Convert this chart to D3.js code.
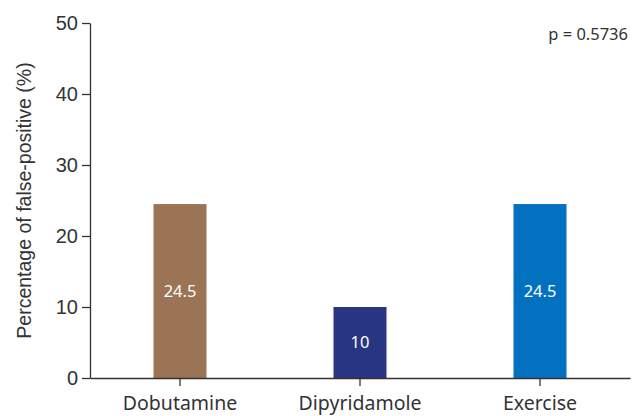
<!DOCTYPE html>
<html>
  <head>
    <meta charset="utf-8"/>
    <style>
    body {
      margin: 0;
      background: #fff;
    }
    </style>
  </head>
  <body>
    <script src="https://d3js.org/d3.v7.min.js"></script>
    <script>
    var categories = ["Dobutamine", "Dipyridamole", "Exercise"];
    var values = [24.5, 10, 24.5];
    var colors = ["#9b7355", "#283583", "#0171c0"];
    var yTicks = [0, 10, 20, 30, 40, 50];
    var pLabel = "p = 0.5736";

    var width = 634, height = 416;
    var margin = {top: 23, right: 4, bottom: 38, left: 90};
    var barWidth = 53;

    var svg = d3.select("body").append("svg")
        .attr("width", width)
        .attr("height", height);

    var x = d3.scaleBand()
        .domain(categories)
        .range([margin.left, width - margin.right]);

    var y = d3.scaleLinear()
        .domain([0, 50])
        .range([height - margin.bottom, margin.top]);

    // bars
    svg.selectAll(".bar")
        .data(values)
      .enter().append("rect")
        .attr("class", "bar")
        .attr("x", function(d, i){ return x(categories[i]) + (x.bandwidth() - barWidth) / 2; })
        .attr("y", function(d){ return y(d); })
        .attr("width", barWidth)
        .attr("height", function(d){ return y(0) - y(d); })
        .attr("fill", function(d, i){ return colors[i]; });

    svg.selectAll(".val")
        .data(values)
      .enter().append("text")
        .attr("class", "val")
        .attr("x", function(d, i){ return x(categories[i]) + x.bandwidth() / 2; })
        .attr("y", function(d){ return (y(d) + y(0)) / 2; })
        .attr("dy", "0.36em")
        .attr("text-anchor", "middle")
        .attr("fill", "#fff")
        .style("font-family", "'Noto Sans', sans-serif")
        .style("font-size", "16.5px")
        .text(function(d){ return d; });

    // y axis
    var yAxis = svg.append("g")
        .attr("transform", "translate(" + margin.left + ",0)")
        .call(d3.axisLeft(y).tickValues(yTicks).tickSize(8).tickPadding(4).tickSizeOuter(0));
    yAxis.selectAll("text")
        .style("font-family", "'Liberation Sans', Arial, sans-serif")
        .style("font-size", "20px")
        .attr("fill", "#333");

    // x axis
    var xAxis = svg.append("g")
        .attr("transform", "translate(0," + y(0) + ")")
        .call(d3.axisBottom(x).tickSize(8).tickPadding(10).tickSizeOuter(0));
    xAxis.selectAll("text")
        .style("font-family", "'Noto Sans', sans-serif")
        .style("font-size", "19.5px")
        .attr("fill", "#333");

    svg.selectAll(".domain, .tick line").attr("stroke", "#333").attr("stroke-width", 1.3);

    // axis title
    svg.append("text")
        .attr("transform", "translate(24," + (height - margin.bottom + margin.top) / 2 + ") rotate(-90)")
        .attr("text-anchor", "middle")
        .attr("dy", "0.36em")
        .attr("fill", "#333")
        .style("font-family", "'Liberation Sans', Arial, sans-serif")
        .style("font-size", "19.5px")
        .text("Percentage of false-positive (%)");

    svg.append("text")
        .attr("x", 628)
        .attr("y", 34)
        .attr("dy", "0.36em")
        .attr("text-anchor", "end")
        .attr("fill", "#333")
        .style("font-family", "'Noto Sans', sans-serif")
        .style("font-size", "16.5px")
        .text(pLabel);
    </script>
  </body>
</html>
